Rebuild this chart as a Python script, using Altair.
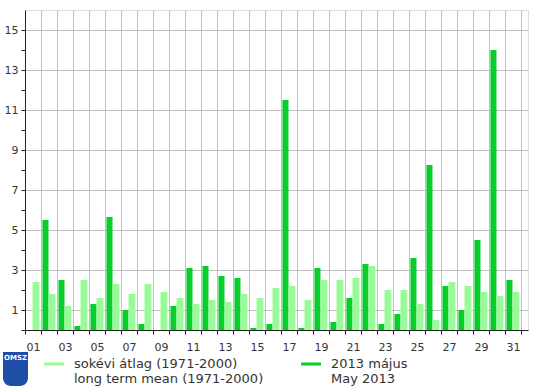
import altair as alt
import pandas as pd

days = list(range(1, 32))
may2013 = [0, 5.5, 2.5, 0.2, 1.3, 5.65, 1.0, 0.3, 0, 1.2,
           3.1, 3.2, 2.7, 2.6, 0.1, 0.3, 11.5, 0.1, 3.1, 0.4,
           1.6, 3.3, 0.3, 0.8, 3.6, 8.25, 2.2, 1.0, 4.5, 14.0, 2.5]
longterm = [2.4, 1.8, 1.2, 2.5, 1.6, 2.3, 1.8, 2.3, 1.9, 1.6,
            1.3, 1.5, 1.4, 1.8, 1.6, 2.1, 2.2, 1.5, 2.5, 2.5,
            2.6, 3.2, 2.0, 2.0, 1.3, 0.5, 2.4, 2.2, 1.9, 1.7, 1.9]

lbl_mean = "sokévi átlag (1971-2000)|long term mean (1971-2000)"
lbl_2013 = "2013 május|May 2013"
series_order = [lbl_mean, lbl_2013]
colors = ["#98fb98", "#0acd2d"]

rows = []
for d, m, l in zip(days, may2013, longterm):
    rows.append({"day": d, "series": lbl_2013, "value": m, "slot": 0})
    rows.append({"day": d, "series": lbl_mean, "value": l, "slot": 1})
df = pd.DataFrame(rows)

x_ticks = [k + 0.5 for k in range(0, 32)] + [d for d in days if d % 2 == 1]
y_ticks = list(range(0, 16))

font = "DejaVu Sans"

bars = alt.Chart(df).transform_calculate(
    x0="datum.day - 0.5 + (datum.slot == 0 ? 0.09 : 0.47)",
    x1="datum.day - 0.5 + (datum.slot == 0 ? 0.47 : 0.9)",
).mark_bar().encode(
    x=alt.X("x0:Q",
            scale=alt.Scale(domain=[0.5, 31.94], nice=False, zero=False),
            axis=alt.Axis(
                values=x_ticks, title=None,
                labelExpr="datum.value % 1 == 0 ? (datum.value < 10 ? '0' + datum.value : '' + datum.value) : ''",
                gridOpacity={"condition": {"test": "datum.value % 1 != 0", "value": 1}, "value": 0},
                tickOpacity={"condition": {"test": "datum.value % 1 != 0", "value": 1}, "value": 0},
                gridColor="#c0c0c0", gridWidth=1,
                domainColor="#222222", tickColor="#222222", tickSize=4,
                labelFont=font, labelFontSize=11, labelColor="#333333",
                labelPadding=7, labelFlush=False, labelOverlap=False)),
    x2="x1:Q",
    y=alt.Y("value:Q",
            scale=alt.Scale(domain=[0, 16], nice=False),
            axis=alt.Axis(
                values=y_ticks, title=None,
                labelExpr="datum.value % 2 == 1 ? datum.label : ''",
                gridOpacity={"condition": {"test": "datum.value % 2 == 1", "value": 1}, "value": 0},
                gridColor="#c0c0c0", gridWidth=1,
                domainColor="#222222", tickColor="#222222", tickSize=4,
                labelFont=font, labelFontSize=11, labelColor="#333333",
                labelPadding=3, labelOverlap=False)),
    y2=alt.datum(0),
    color=alt.Color("series:N",
                    scale=alt.Scale(domain=series_order, range=colors),
                    legend=alt.Legend(
                        orient="none", legendX=19, legendY=344,
                        direction="horizontal", title=None,
                        symbolType="M-1,-0.15H1V0.15H-1Z", symbolSize=400,
                        symbolStrokeWidth=0,
                        labelExpr="split(datum.label, '|')",
                        labelFont=font, labelFontSize=13, labelColor="#333333",
                        labelOffset=10, labelLimit=400, columnPadding=37)),
)

logo = alt.Chart(pd.DataFrame({"t": ["OMSZ"]})).mark_rect(
    color="#1f4ea6", cornerRadiusBottomLeft=8, cornerRadiusBottomRight=8, clip=False
).encode(x=alt.value(-22), x2=alt.value(3), y=alt.value(342), y2=alt.value(376))

logo_txt = alt.Chart(pd.DataFrame({"t": ["OMSZ"]})).mark_text(
    color="white", fontSize=7, fontWeight="bold", font=font, clip=False
).encode(text="t:N", x=alt.value(-9.5), y=alt.value(348))

chart = alt.layer(bars, logo, logo_txt).properties(
    width=503, height=320,
    autosize=alt.AutoSizeParams(type="none"),
    padding={"left": 25, "top": 10, "right": 8, "bottom": 60},
).configure_view(stroke=None).configure(background="white")

chart.save("out.html", embed_options={"renderer": "svg", "actions": False})
